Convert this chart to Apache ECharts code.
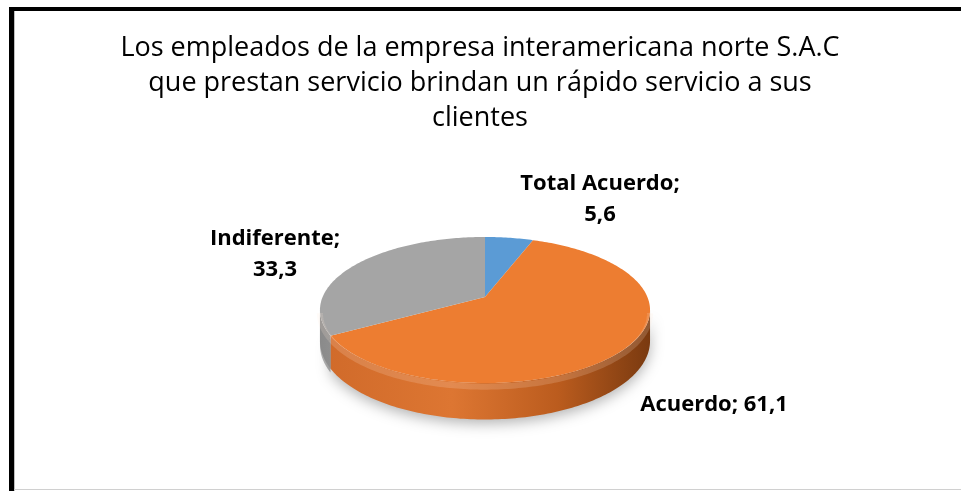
<!DOCTYPE html>
<html>
<head>
<meta charset="utf-8">
<script src="https://cdn.jsdelivr.net/npm/echarts@6/dist/echarts.min.js"></script>
<style>
  html, body { margin: 0; padding: 0; background: #fff; }
  #chart { width: 961px; height: 491px; }
</style>
</head>
<body>
<div id="chart"></div>
<script>
// datos
const categorias = ['Total Acuerdo', 'Acuerdo', 'Indiferente']
const porcentajes = [5.6, 61.1, 33.3]
const titulo = 'Los empleados de la empresa interamericana norte S.A.C\nque prestan servicio brindan un rápido servicio a sus\nclientes'

// estilo
const colores = ['#5B9BD5', '#ED7D31', '#A5A5A5']
const separadores = ['\n', ' ', '\n']
const posEtiquetas = [[600, 199], [714, 405], [275, 254]]
const FUENTE = 'Open Sans'

// proyeccion del disco en perspectiva (angulo desde las 12, sentido horario)
const CX = 485, CY = 297, RX = 162.4, RY = 70.7, K = 0.178, PROF = 30
const VIS0 = Math.acos(-K), VIS1 = 2 * Math.PI - Math.acos(-K)

function proj(ang, caida) {
	const u = Math.sin(ang), v = Math.cos(ang), w = 1 + K * v
	return [CX + RX * u / w, CY - RY * v / w + caida / w]
}

function arco(a0, a1, caida) {
	const pts = []
	const n = Math.max(2, Math.ceil(Math.abs(a1 - a0) / (Math.PI / 180)))
	for (let i = 0; i <= n; i++) {
		pts.push(proj(a0 + (a1 - a0) * i / n, caida))
	}
	return pts
}

const total = porcentajes.reduce((a, b) => a + b, 0)
function angulos(idx) {
	let acum = 0
	for (let i = 0; i < idx; i++) acum += porcentajes[i]
	const a0 = acum / total * Math.PI * 2
	return [a0, a0 + porcentajes[idx] / total * Math.PI * 2]
}

function fmt(v) {
	return v.toFixed(1).replace('.', ',')
}

const rellenoPared = [
	'#3f6f9c',
	new echarts.graphic.LinearGradient(320, 0, 650, 0, [
		{ offset: 0, color: '#d06a2a' },
		{ offset: 0.4, color: '#dd7632' },
		{ offset: 0.72, color: '#bb5c1e' },
		{ offset: 1, color: '#7a3a10' }
	], true),
	new echarts.graphic.LinearGradient(320, 0, 360, 0, [
		{ offset: 0, color: '#8a8a8a' },
		{ offset: 1, color: '#9c9c9c' }
	], true)
]

const chart = echarts.init(document.getElementById('chart'), null, { renderer: 'canvas' })

chart.setOption({
	backgroundColor: '#ffffff',
	animation: false,
	title: {
		text: titulo,
		left: 480,
		top: 31,
		textAlign: 'center',
		padding: 0,
		textStyle: {
			fontFamily: FUENTE,
			fontSize: 27,
			fontWeight: 'normal',
			color: '#000',
			lineHeight: 35
		}
	},
	graphic: [
		{ type: 'rect', shape: { x: 9, y: 7, width: 5, height: 484 }, style: { fill: '#000' }, z: 10 },
		{ type: 'rect', shape: { x: 9, y: 7, width: 952, height: 4 }, style: { fill: '#000' }, z: 10 },
		{ type: 'rect', shape: { x: 14, y: 11, width: 1, height: 480 }, style: { fill: '#bfbfbf' }, z: 10 },
		{ type: 'rect', shape: { x: 14, y: 489, width: 947, height: 1 }, style: { fill: '#d0d0d0' }, z: 10 }
	],
	series: [
		{
			// paredes laterales
			type: 'custom',
			coordinateSystem: 'none',
			silent: true,
			z: 1,
			data: porcentajes,
			renderItem: function (params) {
				const [a0, a1] = angulos(params.dataIndex)
				const s = Math.max(a0, VIS0), e = Math.min(a1, VIS1)
				if (e <= s) return { type: 'group', children: [] }
				const pts = arco(s, e, 0).concat(arco(e, s, PROF))
				return {
					type: 'polygon',
					shape: { points: pts },
					style: {
						fill: rellenoPared[params.dataIndex],
						shadowBlur: params.dataIndex === 1 ? 14 : 0,
						shadowColor: 'rgba(0,0,0,0.3)',
						shadowOffsetY: 4
					}
				}
			}
		},
		{
			// caras superiores
			type: 'custom',
			coordinateSystem: 'none',
			silent: true,
			z: 2,
			data: porcentajes,
			renderItem: function (params) {
				const i = params.dataIndex
				const [a0, a1] = angulos(i)
				const pts = [[CX, CY]].concat(arco(a0, a1, 0))
				const hijos = [{
					type: 'polygon',
					shape: { points: pts },
					style: { fill: colores[i] }
				}]
				const s = Math.max(a0, VIS0), e = Math.min(a1, VIS1)
				if (e > s) {
					hijos.push({
						type: 'polyline',
						shape: { points: arco(s, e, 3) },
						style: { stroke: 'rgba(255,235,215,0.18)', lineWidth: 6, fill: null }
					})
				}
				hijos.push({
					type: 'text',
					x: posEtiquetas[i][0],
					y: posEtiquetas[i][1],
					z2: 10,
					style: {
						text: categorias[i] + ';' + separadores[i] + fmt(porcentajes[i]),
						fill: '#000',
						fontFamily: FUENTE,
						fontSize: 22,
						fontWeight: 'bold',
						lineHeight: 31,
						align: 'center',
						verticalAlign: 'middle'
					}
				})
				return { type: 'group', children: hijos }
			}
		}
	]
})
</script>
</body>
</html>
